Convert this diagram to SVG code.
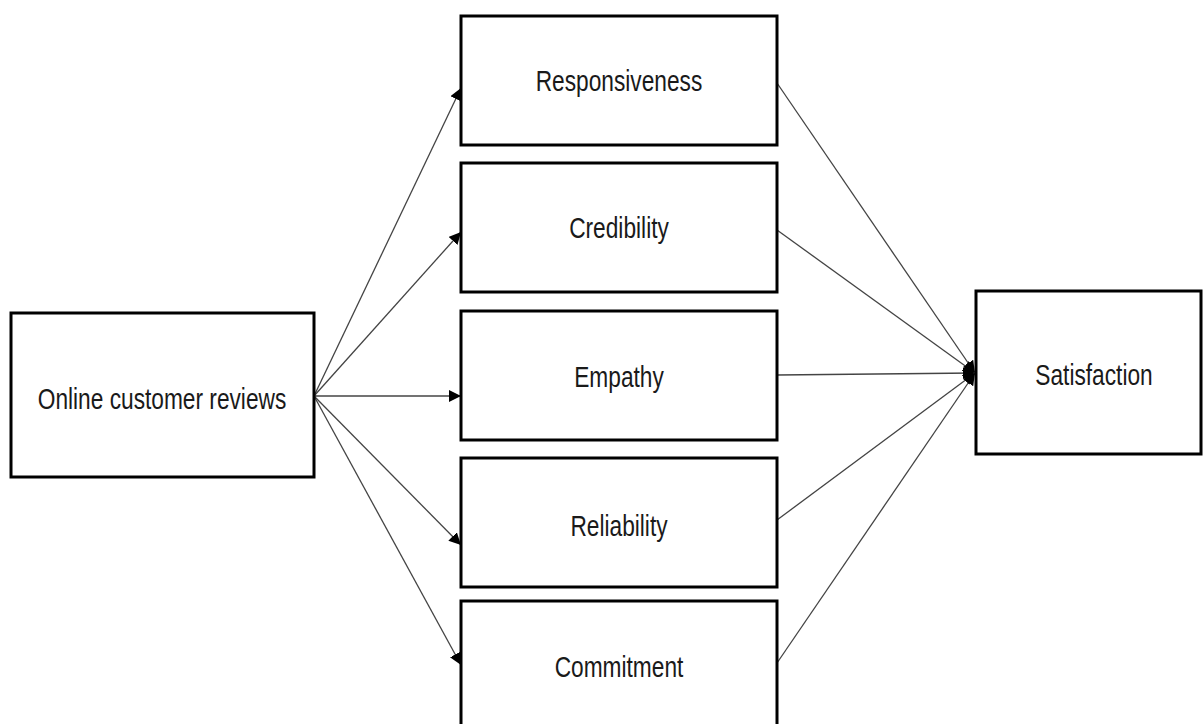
<svg xmlns="http://www.w3.org/2000/svg" width="1204" height="724" viewBox="0 0 1204 724">
<style>
.box{fill:#fff;stroke:#000;stroke-width:3}
.lbl{font-family:"Liberation Sans",Arial,sans-serif;font-size:30px;fill:#1a1a1a;text-anchor:middle}
.edge{stroke:#444;stroke-width:1.3;fill:none}
</style>
<defs>
<marker id="ah" markerUnits="userSpaceOnUse" markerWidth="14" markerHeight="12" refX="12" refY="6" orient="auto">
<path d="M0,0 L12,6 L0,12 Z" fill="#000"/>
</marker>
</defs>
<rect width="1204" height="724" fill="#fff"/>
<g id="connectors">
<line class="edge" x1="314" y1="396" x2="461" y2="88" marker-end="url(#ah)"/>
<line class="edge" x1="314" y1="396" x2="461" y2="232" marker-end="url(#ah)"/>
<line class="edge" x1="314" y1="396" x2="461" y2="396" marker-end="url(#ah)"/>
<line class="edge" x1="314" y1="396" x2="461" y2="545" marker-end="url(#ah)"/>
<line class="edge" x1="314" y1="396" x2="461" y2="665" marker-end="url(#ah)"/>
<line class="edge" x1="777" y1="83" x2="975" y2="373" marker-end="url(#ah)"/>
<line class="edge" x1="777" y1="230" x2="975" y2="373" marker-end="url(#ah)"/>
<line class="edge" x1="777" y1="375" x2="975" y2="373" marker-end="url(#ah)"/>
<line class="edge" x1="777" y1="520" x2="975" y2="373" marker-end="url(#ah)"/>
<line class="edge" x1="777" y1="663" x2="975" y2="373" marker-end="url(#ah)"/>
</g>
<g id="online">
<rect class="box" x="11" y="313" width="303" height="164"/>
<text class="lbl" transform="translate(162,409) scale(0.757,1)">Online customer reviews</text>
</g>
<g id="responsiveness">
<rect class="box" x="461" y="16" width="316" height="129"/>
<text class="lbl" transform="translate(619,91) scale(0.757,1)">Responsiveness</text>
</g>
<g id="credibility">
<rect class="box" x="461" y="163" width="316" height="129"/>
<text class="lbl" transform="translate(619,238) scale(0.757,1)">Credibility</text>
</g>
<g id="empathy">
<rect class="box" x="461" y="311" width="316" height="129"/>
<text class="lbl" transform="translate(619,387) scale(0.757,1)">Empathy</text>
</g>
<g id="reliability">
<rect class="box" x="461" y="458" width="316" height="129"/>
<text class="lbl" transform="translate(619,536) scale(0.757,1)">Reliability</text>
</g>
<g id="commitment">
<rect class="box" x="461" y="601" width="316" height="140"/>
<text class="lbl" transform="translate(619,677) scale(0.757,1)">Commitment</text>
</g>
<g id="satisfaction">
<rect class="box" x="976" y="291" width="225" height="163"/>
<text class="lbl" transform="translate(1094,385) scale(0.757,1)">Satisfaction</text>
</g>
</svg>
